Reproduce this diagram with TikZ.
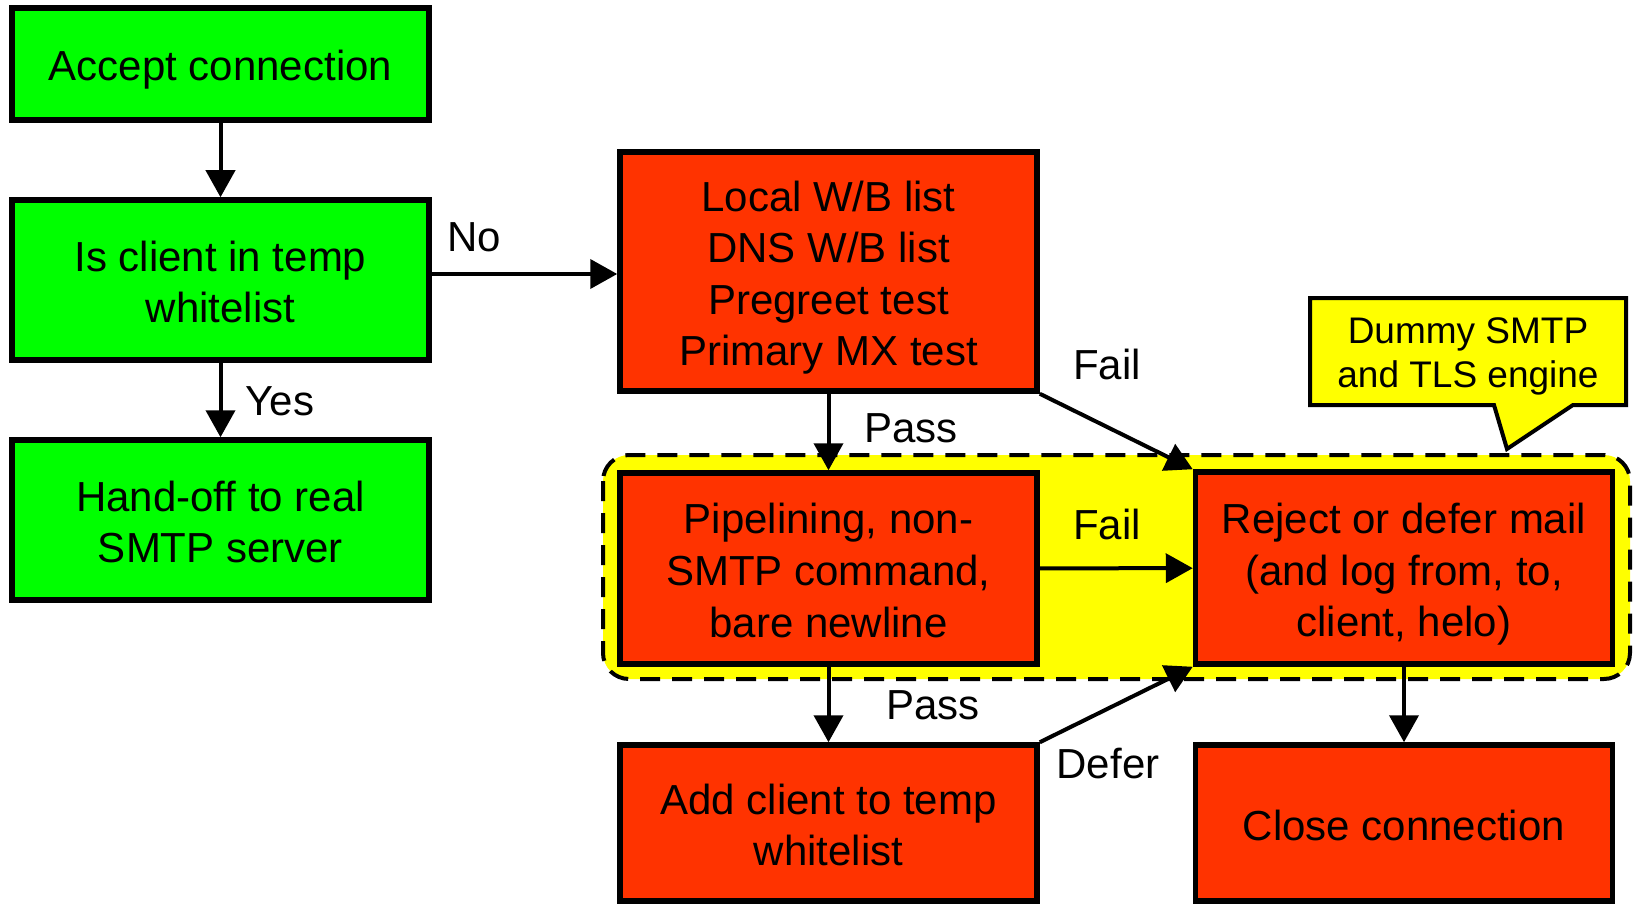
\documentclass[tikz,border=0pt]{standalone}
\usepackage{fontspec}
\setmainfont{Liberation Sans}
\usetikzlibrary{arrows.meta}
\definecolor{okgreen}{RGB}{0,255,0}
\definecolor{testred}{RGB}{255,51,0}
\definecolor{zoneyellow}{RGB}{255,255,0}
% keep the caps of the lines centred in the boxes
\newcommand{\ct}{\rule{0pt}{21.4pt}}
\newcommand{\cb}{\rule[-4.4pt]{0pt}{0pt}}

\begin{document}
\begin{tikzpicture}[x=.5pt,y=-.5pt,
  box/.style={draw=black, line width=2.75pt, align=center, inner sep=0pt, minimum width=208.5pt, font=\fontsize{21}{25.8}\selectfont},
  okbox/.style={box, fill=okgreen},
  testbox/.style={box, fill=testred},
  flow/.style={-{Triangle[length=13.5pt,width=14.5pt]}, line width=2pt},
  lbl/.style={align=center, font=\fontsize{21}{25.8}\selectfont}]
\useasboundingbox (0,0) rectangle (1634,904);

% dummy smtp zone
\draw[fill=zoneyellow, line width=2pt, dash pattern=on 10pt off 6pt, rounded corners=13pt] (603,455) rectangle (1630,679);

% callout
\draw[fill=zoneyellow, line width=2pt] (1310,298) -- (1626,298) -- (1626,405) -- (1573,405) -- (1507,449) -- (1494,405) -- (1310,405) -- cycle;
\node[align=center, font=\fontsize{18.5}{22}\selectfont] (engine) at (1468,352) {\rule{0pt}{17.1pt}Dummy SMTP\\and TLS engine\rule[-3.9pt]{0pt}{0pt}};

% left column
\node[okbox, minimum height=56pt] (accept) at (220.5,64) {\ct Accept connection\cb};
\node[okbox, minimum height=80pt] (isclient) at (220.5,280) {\ct Is client in temp\\whitelist\cb};
\node[okbox, minimum height=80pt] (handoff) at (220.5,520) {\ct Hand-off to real\\SMTP server\cb};

% middle column
\node[testbox, minimum height=119.5pt] (local) at (828.5,271.5) {\ct Local W/B list\\DNS W/B list\\Pregreet test\\Primary MX test\cb};
\node[testbox, minimum height=95.5pt] (pipe) at (828.5,568.5) {\ct Pipelining, non-\\SMTP command,\\bare newline\cb};
\node[testbox, minimum height=78pt] (add) at (828.5,823) {\ct Add client to temp\\whitelist\cb};

% right column
\node[testbox, minimum height=96pt] (reject) at (1404,568) {\ct Reject or defer mail\\(and log from, to,\\client, helo)\cb};
\node[testbox, minimum height=78pt] (close) at (1404,823) {\ct Close connection\cb};

% arrows
\draw[flow] (accept) -- (isclient);
\draw[flow] (isclient) -- (handoff);
\draw[flow] ([yshift=-1.25pt]isclient.east |- local.west) -- ([yshift=-1.25pt]local.west);
\draw[flow] (local) -- (pipe);
\draw[flow] (local.south east) -- (reject.north west);
\draw[flow] (pipe) -- (reject);
\draw[flow] (pipe) -- (add);
\draw[flow] (add.north east) -- (reject.south west);
\draw[flow] (reject) -- (close);

% labels
\node[lbl] (lno) at (474,237) {No};
\node[lbl] (lyes) at (280,401) {Yes};
\node[lbl] (lpass) at (911,428) {Pass};
\node[lbl] (lfail) at (1107,364) {Fail};
\node[lbl] (lfailb) at (1107,524) {Fail};
\node[lbl] (lpassb) at (933,705) {Pass};
\node[lbl] (ldefer) at (1108,764) {Defer};

\end{tikzpicture}
\end{document}
